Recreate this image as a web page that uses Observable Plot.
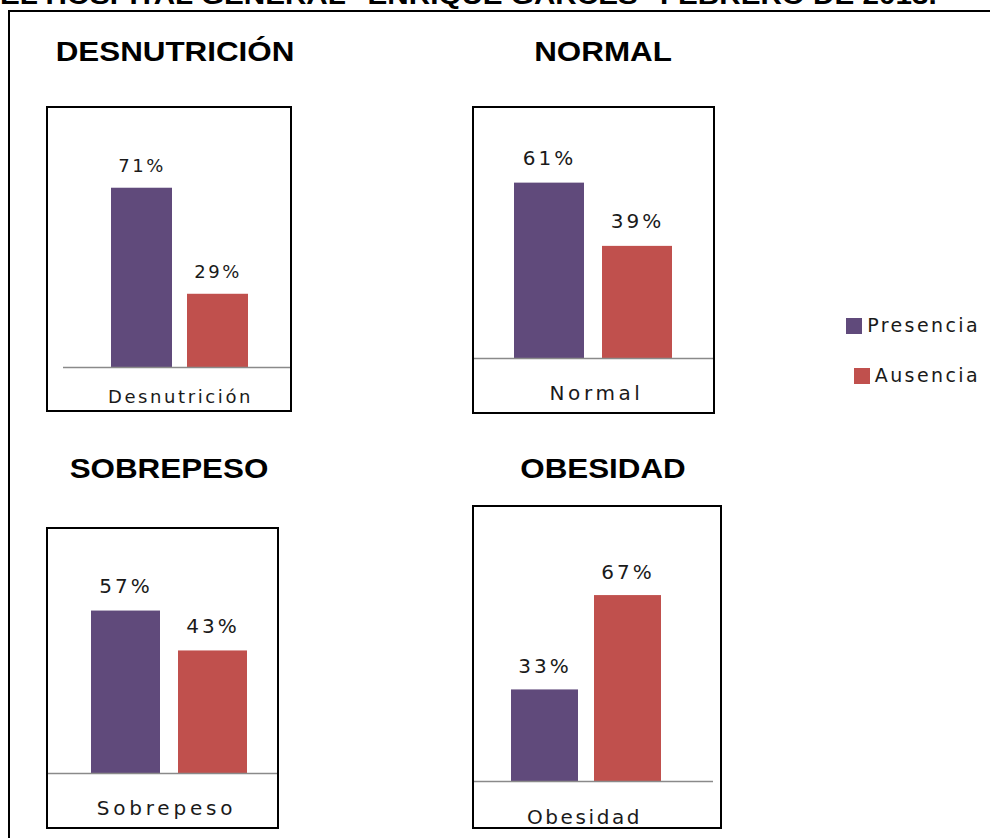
<!DOCTYPE html>
<html>
<head>
<meta charset="utf-8">
<script src="https://cdn.jsdelivr.net/npm/d3@7"></script>
<script src="https://cdn.jsdelivr.net/npm/@observablehq/plot@0.6"></script>
<style>
  html, body { margin: 0; padding: 0; background: #fff; }
  #page { position: relative; width: 990px; height: 838px; overflow: hidden; background: #fff; }
  .doc-title {
    position: absolute; left: 0; top: -18px; white-space: nowrap;
    font: bold 26px/26px "Liberation Sans", Arial, sans-serif; color: #000;
    transform-origin: 0 0; transform: scaleX(1.14);
  }
  .outer { position: absolute; left: 8px; top: 10px; width: 1200px; height: 1200px;
    border: 2px solid #000; box-sizing: border-box; }
  .ptitle {
    position: absolute; white-space: nowrap; color: #000;
    font: bold 28px/28px "Liberation Sans", Arial, sans-serif;
    transform: translateX(-50%) scaleX(1.12);
  }
  .panel { position: absolute; }
  .panel svg { display: block; }
  .panel .box { position: absolute; inset: 0; border: 2px solid #000; box-sizing: border-box; pointer-events: none; }
  .legend { position: absolute; right: 10px; top: 316px; display: flex; flex-direction: column;
    align-items: flex-end; gap: 31px; font: 19px/19px "DejaVu Sans", sans-serif; color: #1a1a1a; letter-spacing: 2.4px; }
  .legend .item { display: flex; align-items: center; gap: 5px; }
  .legend .sw { width: 16px; height: 16px; }
</style>
</head>
<body>
<div id="page">
  <div class="doc-title">EL HOSPITAL GENERAL "ENRIQUE GARCÉS" FEBRERO DE 2013.</div>
  <div class="outer"></div>
</div>
<script>
// Survey results: share of each group with the condition present / absent
const series = ["Presencia", "Ausencia"];
const colors = ["#604A7B", "#C0504D"];
const categories = ["Desnutrición", "Normal", "Sobrepeso", "Obesidad"];
const titles = ["DESNUTRICIÓN", "NORMAL", "SOBREPESO", "OBESIDAD"];
const presencia = [71, 61, 57, 33];
const ausencia = [29, 39, 43, 67];

// Placement of the four small charts on the sheet
const layout = [
  {left: 46, top: 106, width: 246, height: 306, mt: 59, mb: 45, ml: 17, mr: 0,
   pi: 0.2, po: 0.6, align: 0.52, valueSize: 18, valueLs: 2.5, valueDy: -22,
   catSize: 18, catLs: 2.6, catDx: 2.5, catDy: 30, titleX: 175, titleBase: 62},
  {left: 472, top: 106, width: 243, height: 308, mt: 22, mb: 56, ml: 0, mr: 0,
   pi: 0.2, po: 0.466, align: 0.5, valueSize: 20, valueLs: 3, valueDy: -25,
   catSize: 20, catLs: 3.6, catDx: 2.5, catDy: 35, titleX: 602.5, titleBase: 62},
  {left: 46, top: 527, width: 233, height: 302, mt: 18, mb: 56, ml: 0, mr: 0,
   pi: 0.21, po: 0.44, align: 0.577, valueSize: 20, valueLs: 3, valueDy: -24,
   catSize: 20, catLs: 3.8, catDx: 3.5, catDy: 35, titleX: 168.5, titleBase: 479},
  {left: 472, top: 505, width: 250, height: 324, mt: 54, mb: 48, ml: 0, mr: 9,
   pi: 0.19, po: 0.53, align: 0.427, valueSize: 20, valueLs: 3, valueDy: -23,
   catSize: 20, catLs: 2.6, catDx: -8.5, catDy: 36, titleX: 603, titleBase: 479}
];

const page = document.getElementById("page");
const values = [presencia, ausencia];

categories.forEach((cat, i) => {
  const L = layout[i];
  const rows = series.map((s, j) => ({series: s, value: values[j][i]}));

  const chart = Plot.plot({
    width: L.width,
    height: L.height,
    marginTop: L.mt, marginBottom: L.mb, marginLeft: L.ml, marginRight: L.mr,
    style: {fontFamily: "DejaVu Sans, sans-serif", background: "transparent", color: "#1a1a1a", overflow: "visible"},
    x: {axis: null, domain: series, paddingInner: L.pi, paddingOuter: L.po, align: L.align},
    y: {axis: null, domain: [0, 80]},
    color: {domain: series, range: colors},
    marks: [
      Plot.barY(rows, {x: "series", y: "value", fill: "series"}),
      Plot.ruleY([0], {stroke: "#8a8a8a", strokeWidth: 1.5}),
      Plot.text(rows, {x: "series", y: "value", text: d => `${d.value}%`,
        dy: L.valueDy, fontSize: L.valueSize, fill: "#1a1a1a"}),
      Plot.text([cat], {y: 0, text: d => d, frameAnchor: "middle",
        dx: L.catDx, dy: L.catDy, fontSize: L.catSize, fill: "#1a1a1a"})
    ]
  });

  const texts = d3.select(chart).selectAll('g[aria-label="text"]').nodes();
  d3.select(texts[0]).selectAll("text").style("letter-spacing", L.valueLs + "px");
  d3.select(texts[1]).selectAll("text").style("letter-spacing", L.catLs + "px");

  const wrap = document.createElement("div");
  wrap.className = "panel";
  wrap.style.left = L.left + "px";
  wrap.style.top = L.top + "px";
  wrap.style.width = L.width + "px";
  wrap.style.height = L.height + "px";
  wrap.appendChild(chart);
  const box = document.createElement("div");
  box.className = "box";
  wrap.appendChild(box);
  page.appendChild(wrap);

  const t = document.createElement("div");
  t.className = "ptitle";
  t.textContent = titles[i];
  t.style.left = L.titleX + "px";
  t.style.top = (L.titleBase - 23.7) + "px";
  page.appendChild(t);
});

// Legend
const legend = document.createElement("div");
legend.className = "legend";
series.forEach((s, j) => {
  const item = document.createElement("div");
  item.className = "item";
  const sw = document.createElement("span");
  sw.className = "sw";
  sw.style.background = colors[j];
  const label = document.createElement("span");
  label.textContent = s;
  item.appendChild(sw);
  item.appendChild(label);
  legend.appendChild(item);
});
page.appendChild(legend);
</script>
</body>
</html>
